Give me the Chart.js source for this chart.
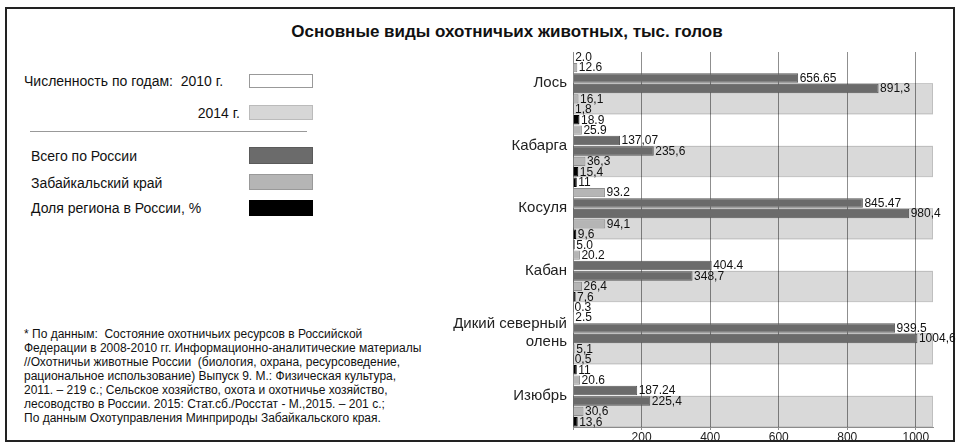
<!DOCTYPE html>
<html>
<head>
<meta charset="utf-8">
<script src="https://cdn.jsdelivr.net/npm/chart.js@4/dist/chart.umd.min.js"></script>
<style>
  html, body { margin:0; padding:0; background:#fff; }
  body { width:957px; height:448px; position:relative; overflow:hidden;
         font-family:"Liberation Sans", Arial, sans-serif; color:#111; }
  #frame { position:absolute; left:5px; top:7px; width:950px; height:435px;
           box-sizing:border-box; border:2px solid #222; }
  #title { position:absolute; left:0; width:1014px; top:22px; text-align:center;
           font-weight:bold; font-size:17px; color:#111; }
  .t { position:absolute; font-size:14px; line-height:16px; white-space:nowrap; color:#111; }
  .box { position:absolute; left:249px; width:64px; box-sizing:border-box; }
  #note { position:absolute; left:24px; top:327px; font-size:12px; line-height:14px; color:#111; white-space:nowrap; }
  #rule { position:absolute; left:30px; top:131px; width:277px; height:0; border-top:1px solid #999; }
  canvas { position:absolute; left:0; top:0; }
</style>
</head>
<body>
<div id="frame"></div>
<div id="title">Основные виды охотничьих животных, тыс. голов</div>

<div class="t" style="left:24px; top:73px;">Численность по годам:&nbsp; 2010 г.</div>
<div class="box" style="top:74px; height:14px; background:#fff; border:1px solid #999;"></div>
<div class="t" style="right:717px; top:105px;">2014 г.</div>
<div class="box" style="top:105px; height:15px; background:#d6d6d6; border:1px solid #bbb;"></div>
<div id="rule"></div>
<div class="t" style="left:31px; top:148px;">Всего по России</div>
<div class="box" style="top:147px; height:17px; background:#6b6b6b; border:1px solid #5a5a5a;"></div>
<div class="t" style="left:31px; top:175px;">Забайкальский край</div>
<div class="box" style="top:174px; height:16px; background:#b5b5b5; border:1px solid #999;"></div>
<div class="t" style="left:31px; top:200px;">Доля региона в России, %</div>
<div class="box" style="top:200px; height:16px; background:#000;"></div>

<div id="note">* По данным:&nbsp; Состояние охотничьих ресурсов в Российской<br>
Федерации в 2008-2010 гг. Информационно-аналитические материалы<br>
//Охотничьи животные России&nbsp; (биология, охрана, ресурсоведение,<br>
рациональное использование) Выпуск 9. М.: Физическая культура,<br>
2011. – 219 с.; Сельское хозяйство, охота и охотничье хозяйство,<br>
лесоводство в России. 2015: Стат.сб./Росстат - М.,2015. – 201 с.;<br>
По данным Охотуправления Минприроды Забайкальского края.</div>

<canvas id="c" width="957" height="448"></canvas>

<script>
// ---- data ----
const categories = ['Лось', 'Кабарга', 'Косуля', 'Кабан', ['Дикий северный', 'олень'], 'Изюбрь'];
const share2010   = [2.0, 18.9, 11, 5.0, 0.3, 11];
const zab2010     = [12.6, 25.9, 93.2, 20.2, 2.5, 20.6];
const russia2010  = [656.65, 137.07, 845.47, 404.4, 939.5, 187.24];
const russia2014  = [891.3, 235.6, 980.4, 348.7, 1004.6, 225.4];
const zab2014     = [16.1, 36.3, 94.1, 26.4, 5.1, 30.6];
const share2014   = [1.8, 15.4, 9.6, 7.6, 0.5, 13.6];

const share2010Labels  = ['2.0', '18.9', '11', '5.0', '0.3', '11'];
const zab2010Labels    = ['12.6', '25.9', '93.2', '20.2', '2.5', '20.6'];
const russia2010Labels = ['656.65', '137,07', '845.47', '404.4', '939.5', '187.24'];
const russia2014Labels = ['891,3', '235,6', '980,4', '348,7', '1004,6', '225,4'];
const zab2014Labels    = ['16,1', '36,3', '94,1', '26,4', '5,1', '30,6'];
const share2014Labels  = ['1,8', '15,4', '9,6', '7,6', '0,5', '13,6'];

const xTicks = [200, 400, 600, 800, 1000];
const xMax = 1050;

const FONT = '"Liberation Sans", Arial, sans-serif';
const DARK = '#6b6b6b', DARKB = '#555555';
const LIGHT = '#b5b5b5', LIGHTB = '#8c8c8c';
const BLACK = '#000000';

const labelSets = [share2010Labels, zab2010Labels, russia2010Labels, russia2014Labels, zab2014Labels, share2014Labels];

// light-grey band marking the 2014 half of every category (lower half), drawn via the scales
const yearBand = {
  id: 'yearBand',
  beforeDatasetsDraw(chart) {
    const { ctx, scales: { x, y } } = chart;
    ctx.save();
    categories.forEach((c, i) => {
      const top = y.getPixelForValue(i);
      const bottom = y.getPixelForValue(i + 0.5);
      const left = x.getPixelForValue(0);
      const right = x.getPixelForValue(xMax);
      ctx.fillStyle = 'rgba(0,0,0,0.15)';
      ctx.fillRect(left, top, right - left, bottom - top);
      ctx.strokeStyle = 'rgba(0,0,0,0.12)';
      ctx.lineWidth = 1;
      ctx.strokeRect(left + 0.5, Math.round(top) + 0.5, right - left - 1, bottom - top - 1);
    });
    ctx.restore();
  }
};

const valueLabels = {
  id: 'valueLabels',
  afterDatasetsDraw(chart) {
    const ctx = chart.ctx;
    ctx.save();
    ctx.font = '12px ' + FONT;
    ctx.fillStyle = '#111';
    ctx.textAlign = 'left';
    ctx.textBaseline = 'middle';
    labelSets.forEach((labs, i) => {
      const meta = chart.getDatasetMeta(i);
      meta.data.forEach((el, j) => {
        ctx.fillText(labs[j], el.x + 1.5, el.y + 0.5);
      });
    });
    ctx.restore();
  }
};

function barDs(label, data, bg, bd) {
  return { label, data, backgroundColor: bg, borderColor: bd, borderWidth: 1,
           barPercentage: 0.9, categoryPercentage: 1 };
}

new Chart(document.getElementById('c'), {
  type: 'bar',
  data: {
    labels: categories,
    datasets: [
      barDs('Доля региона в России, % (2010)', share2010, BLACK, BLACK),
      barDs('Забайкальский край (2010)', zab2010, LIGHT, LIGHTB),
      barDs('Всего по России (2010)', russia2010, DARK, DARKB),
      barDs('Всего по России (2014)', russia2014, DARK, DARKB),
      barDs('Забайкальский край (2014)', zab2014, LIGHT, LIGHTB),
      barDs('Доля региона в России, % (2014)', share2014, BLACK, BLACK)
    ]
  },
  options: {
    indexAxis: 'y',
    responsive: false,
    animation: false,
    events: [],
    layout: { padding: { left: 440, right: 24, top: 52, bottom: 3 } },
    plugins: { legend: { display: false }, tooltip: { enabled: false }, title: { display: false } },
    scales: {
      x: {
        type: 'linear', min: 0, max: xMax,
        afterFit(s) { s.height = 18; },
        afterBuildTicks(s) { s.ticks = [{ value: 0 }].concat(xTicks.map(v => ({ value: v }))); },
        grid: { color: '#8f8f8f', lineWidth: 1, tickLength: 3, drawTicks: true },
        border: { display: true, color: '#8f8f8f' },
        ticks: { font: { size: 12, family: FONT }, color: '#222', padding: 0,
                 callback: v => (v === 0 ? '' : String(v)) }
      },
      y: {
        type: 'category', offset: true,
        afterFit(s) { s.width = 133; },
        grid: { display: false, drawTicks: false },
        border: { display: true, color: '#8f8f8f' },
        ticks: { font: { size: 15, family: FONT, lineHeight: 1.2 }, color: '#222', padding: 6 }
      }
    }
  },
  plugins: [yearBand, valueLabels]
});
</script>
</body>
</html>
